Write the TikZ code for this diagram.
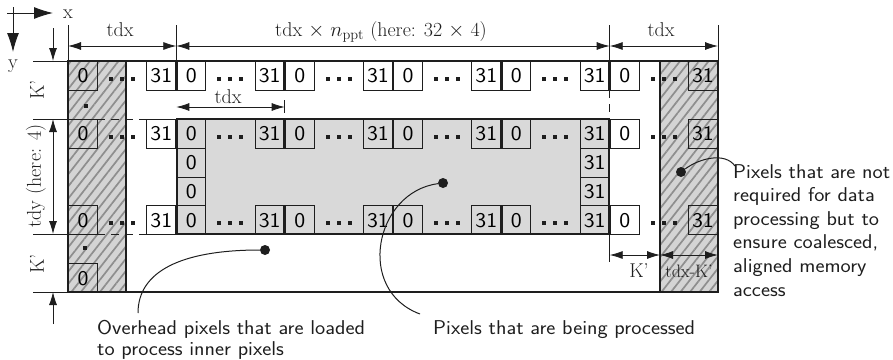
\documentclass[tikz,border=0pt]{standalone}
\usetikzlibrary{arrows.meta,patterns.meta}
\definecolor{lc}{HTML}{1E1E1E}
\definecolor{grayfill}{HTML}{D9D9D9}
\definecolor{hatchbg}{HTML}{D4D4D4}
\definecolor{hatchln}{HTML}{8E8E8E}
\newcommand\mycellfont{\sffamily\fontsize{21}{21}\selectfont}
\newcommand\cellnum[1]{\scalebox{1.1}[1]{#1}}
\newcommand\myannfont{\sffamily\fontsize{20}{23.6}\selectfont}
\newcommand\myannfontL{\sffamily\fontsize{20}{21}\selectfont}
\newcommand\mydimfont{\rmfamily\fontsize{20}{24}\selectfont}
\newcommand\mydimfontS{\rmfamily\fontsize{18}{22}\selectfont}
\begin{document}
\begin{tikzpicture}[x=1pt,y=-1pt,
  cell/.style={draw=lc, line width=1.2pt, minimum width=28.9pt, minimum height=28.75pt, inner sep=0pt, font=\mycellfont, anchor=north west},
  thickl/.style={draw=lc, line width=1.6pt},
  ext/.style={draw=lc, line width=0.7pt},
  dashline/.style={draw=lc, line width=0.8pt, dash pattern=on 8pt off 6pt},
  dimarrow/.style={draw=lc, line width=0.8pt, {Latex[length=13pt,width=8pt]}-{Latex[length=13pt,width=8pt]}},
  onearrow/.style={draw=lc, line width=0.8pt, -{Latex[length=13pt,width=8pt]}},
  axarrow/.style={draw=lc, line width=0.9pt, -{Latex[length=19pt,width=12pt]}},
  dimlabel/.style={font=\mydimfont, inner sep=0pt, text=lc},
  ann/.style={font=\myannfont, inner sep=0pt, text=lc, align=left, xscale=1.08, transform shape},
  sqdot/.style={fill=lc},
  pdot/.style={circle, fill=lc, inner sep=0pt, minimum size=10pt},
  curve/.style={draw=lc, line width=1pt}
]
\useasboundingbox (0,0) rectangle (893,359);

% gray inner region
\fill[grayfill] (176.33,119) rectangle (609.67,234);
% hatched halo columns
\foreach \xa/\xb in {68/126, 660/718}{
  \fill[hatchbg] (\xa,61) rectangle (\xb,292);
  \path[pattern={Lines[angle=52,distance=7.5pt,line width=1.7pt]}, pattern color=hatchln] (\xa,61) rectangle (\xb,292);
}

% dashed block boundaries
\draw[dashline] (97,119) -- (148,119);
\draw[dashline] (97,234) -- (148,234);
\draw[dashline] (609.67,90) -- (609.67,119);

% region borders
\draw[thickl] (176.33,119) rectangle (609.67,234);
\draw[thickl] (68,61) rectangle (126,292);
\draw[thickl] (660,61) rectangle (718,292);
\draw[thickl] (68,61) rectangle (718,292);

% cells in rows
\foreach \b in {0,...,5}{
  \pgfmathsetmacro\xs{68+108.33*\b}
  \pgfmathsetmacro\xe{68+108.33*(\b+1)}
  \pgfmathsetmacro\xm{(\xs+\xe)/2}
  \foreach \r/\y in {a/61,b/119,e/205.25}{
    \node[cell] (c\r\b l) at (\xs,\y) {\cellnum{0}};
    \node[cell, anchor=north east] (c\r\b r) at (\xe,\y) {\cellnum{31}};
    \foreach \d in {-11,0,11}
      \fill[sqdot] (\xm+\d-2,\y+16) rectangle ++(4,4);
  }
}
% column cells
\node[cell] (cl1) at (176.33,147.75) {\cellnum{0}};
\node[cell] (cl2) at (176.33,176.5) {\cellnum{0}};
\node[cell, anchor=north east] (cr1) at (609.67,147.75) {\cellnum{31}};
\node[cell, anchor=north east] (cr2) at (609.67,176.5) {\cellnum{31}};
\node[cell] (cbot) at (68,263.25) {\cellnum{0}};
% vertical dots in the left column
\fill[sqdot] (84,104) rectangle ++(4,4);
\fill[sqdot] (83,246) rectangle ++(4,4);

% axes
\coordinate (o) at (7,13);
\coordinate (ox) at (53,13);
\coordinate (oy0) at (13,7);
\coordinate (oy) at (13,52);
\draw[axarrow] (o) -- (ox);
\draw[axarrow] (oy0) -- (oy);
\node[dimlabel, anchor=base] (lx) at (68,18) {x};
\node[dimlabel, anchor=base] (ly) at (13,68) {y};

% top dimensions
\foreach \n/\x in {0/68,1/176.33,5/609.67,6/718}{
  \coordinate (T\n) at (\x,25);
  \coordinate (B\n) at (\x,61);
  \coordinate (A\n) at (\x,46);
  \draw[ext] (T\n) -- (B\n);
}
\draw[dimarrow] (A0) -- (A1);
\draw[dimarrow] (A1) -- (A5);
\draw[dimarrow] (A5) -- (A6);
\node[dimlabel, anchor=base] (lt1) at (120,36) {tdx};
\node[dimlabel, anchor=base] (lt2) at (381,36) {tdx $\times$ $n_{\mathrm{ppt}}$ (here: 32 $\times$ 4)};
\node[dimlabel, anchor=base] (lt3) at (661,36) {tdx};

% inner tdx dimension
\coordinate (I1) at (176.33,107);
\coordinate (I2) at (284.67,107);
\draw[dimarrow] (I1) -- (I2);
\draw[ext] (284.67,100) -- (284.67,113);
\node[dimlabel, anchor=base] (lt4) at (228,103) {tdx};

% left dimensions
\foreach \n/\y in {1/61,2/119,3/234,4/292}{
  \coordinate (L\n) at (33,\y);
  \coordinate (R\n) at (68,\y);
  \draw[ext] (L\n) -- (R\n);
}
\coordinate (K1s) at (53,28);
\coordinate (K1e) at (53,61);
\coordinate (Dy1) at (53,119);
\coordinate (Dy2) at (53,234);
\coordinate (K2s) at (53,324);
\coordinate (K2e) at (53,292);
\draw[onearrow] (K1s) -- (K1e);
\draw[dimarrow] (Dy1) -- (Dy2);
\draw[onearrow] (K2s) -- (K2e);
\node[dimlabel, rotate=90] (lk1) at (37,90) {K'};
\node[dimlabel, rotate=90] (ltdy) at (36,176) {tdy (here: 4)};
\node[dimlabel, rotate=90] (lk2) at (37,264) {K'};

% right bottom dimensions
\coordinate (V1) at (609.67,234);
\coordinate (V2) at (609.67,262);
\draw[ext] (V1) -- (V2);
\coordinate (H1) at (609.67,255);
\coordinate (H2) at (660,255);
\coordinate (H3) at (718,255);
\draw[dimarrow] (H1) -- (H2);
\draw[dimarrow] (H2) -- (H3);
\node[dimlabel, anchor=base] (lk3) at (639,277) {K'};
\node[dimlabel, anchor=base, font=\mydimfontS] (lk4) at (689,277) {tdx-K'};

% annotations
\node[pdot] (p1) at (265,250) {};
\node[pdot] (p2) at (443,183) {};
\node[pdot] (p3) at (681,172) {};
\coordinate (e1) at (138,313);
\coordinate (e2) at (420,314);
\coordinate (e3) at (735,166);
\draw[curve] (p1) .. controls (180,250) and (138,272) .. (e1);
\draw[curve] (p2) .. controls (375,192) and (355,290) .. (e2);
\draw[curve] (p3) .. controls (700,158) and (725,152) .. (e3);
\node[ann, font=\myannfontL, anchor=north west] (t1) at (97,320) {Overhead pixels that are loaded\\to process inner pixels};
\node[ann, anchor=base west] (t2) at (433,334) {Pixels that are being processed};
\node[ann, anchor=north west] (t3) at (733,164) {Pixels that are not\\required for data\\processing but to\\ensure coalesced,\\aligned memory\\access};
\end{tikzpicture}
\end{document}
